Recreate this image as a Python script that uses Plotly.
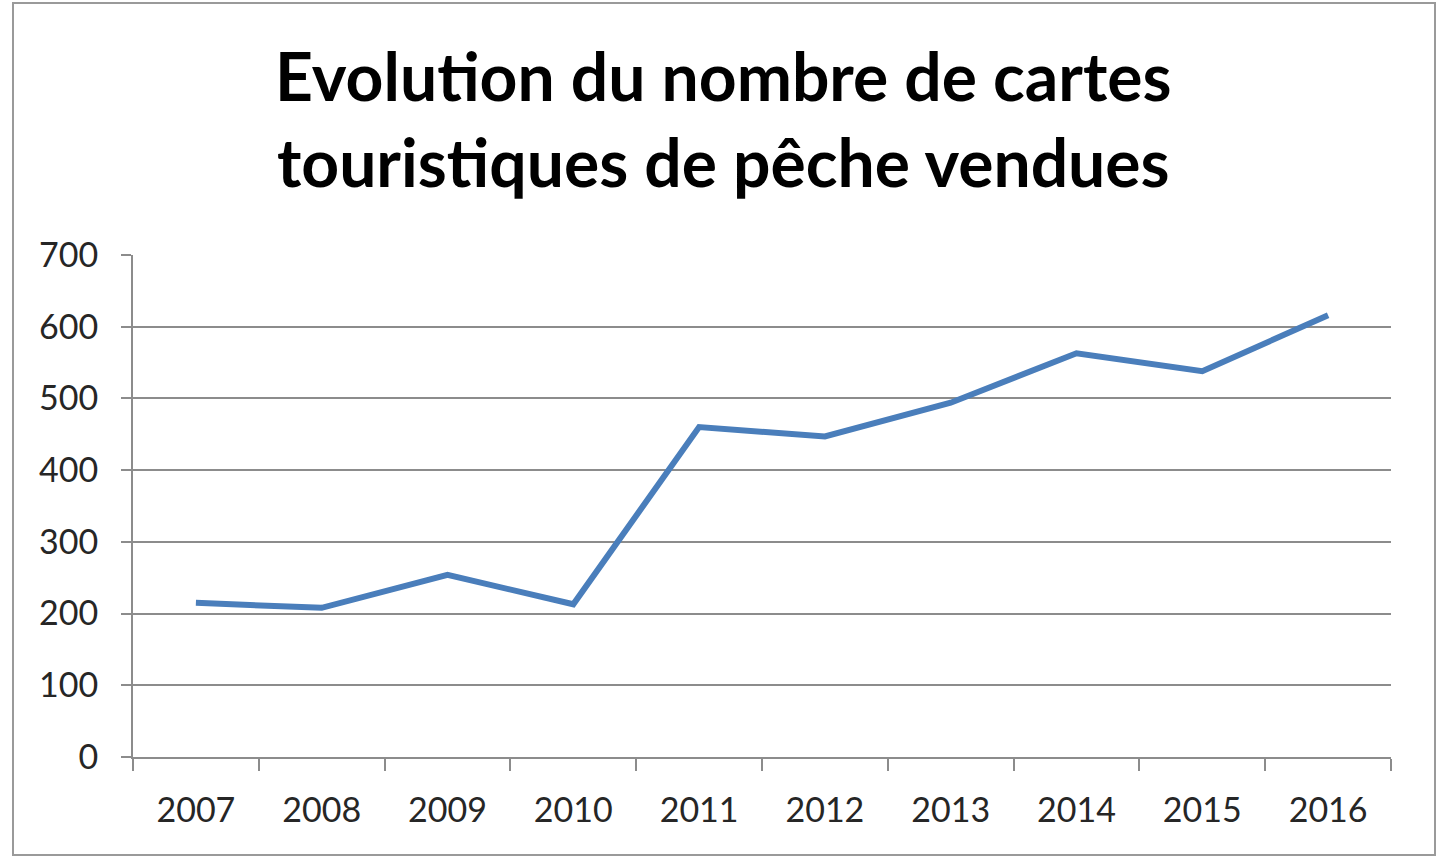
import plotly.graph_objects as go

# Cartes touristiques de pêche vendues par année
annees = ["2007", "2008", "2009", "2010", "2011", "2012", "2013", "2014", "2015", "2016"]
cartes_vendues = [215, 208, 254, 213, 460, 447, 494, 563, 538, 616]
graduations_y = [0, 100, 200, 300, 400, 500, 600, 700]

W, H = 1448, 857
LEFT, RIGHT, TOP, BOTTOM = 133, 57, 255, 100
plot_w = W - LEFT - RIGHT
plot_h = H - TOP - BOTTOM

def px_to_paper_x(px):
    return (px - LEFT) / plot_w

def px_to_paper_y(py):
    return (H - BOTTOM - py) / plot_h

fig = go.Figure()
fig.add_trace(go.Scatter(
    x=annees,
    y=cartes_vendues,
    mode="lines",
    line=dict(color="#4A7EBB", width=6),
    hoverinfo="x+y",
))

axis_grey = "#8C8C8C"
label_font = dict(family="Lato, 'Open Sans', sans-serif", size=34, color="#262626")

fig.update_layout(
    width=W,
    height=H,
    margin=dict(l=LEFT, r=RIGHT, t=TOP, b=BOTTOM),
    paper_bgcolor="white",
    plot_bgcolor="white",
    showlegend=False,
    xaxis=dict(
        type="category",
        categoryorder="array",
        categoryarray=annees,
        tickson="boundaries",
        ticks="outside",
        ticklen=12,
        tickwidth=2,
        tickcolor=axis_grey,
        showline=True,
        linecolor=axis_grey,
        linewidth=2,
        showgrid=False,
        tickfont=label_font,
        ticklabelstandoff=22,
        range=[-0.5, len(annees) - 0.5],
        fixedrange=True,
    ),
    yaxis=dict(
        range=[0, 700],
        tickvals=graduations_y,
        ticks="outside",
        ticklen=10,
        tickwidth=2,
        tickcolor=axis_grey,
        showline=True,
        linecolor=axis_grey,
        linewidth=2,
        showgrid=True,
        gridcolor=axis_grey,
        gridwidth=2,
        zeroline=False,
        tickfont=label_font,
        ticklabelstandoff=16,
        fixedrange=True,
    ),
    annotations=[
        dict(
            text="<b>Evolution du nombre de cartes<br>touristiques de pêche vendues</b>",
            xref="paper",
            yref="paper",
            x=px_to_paper_x(723),
            y=px_to_paper_y(34),
            xanchor="center",
            yanchor="top",
            showarrow=False,
            align="center",
            font=dict(family="Lato, 'Open Sans', sans-serif", size=66, color="black"),
        )
    ],
    shapes=[
        dict(
            type="rect",
            xref="paper",
            yref="paper",
            x0=px_to_paper_x(13),
            x1=px_to_paper_x(1435),
            y0=px_to_paper_y(855),
            y1=px_to_paper_y(3),
            line=dict(color="#9A9A9A", width=2),
            fillcolor="rgba(0,0,0,0)",
            layer="below",
        )
    ],
)

fig.write_html("out.html")
